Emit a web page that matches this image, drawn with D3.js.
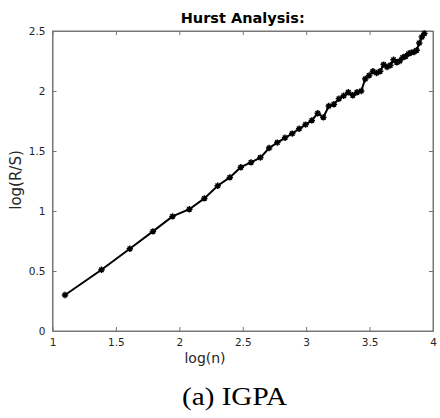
<!DOCTYPE html>
<html><head><meta charset="utf-8">
<script src="https://cdn.jsdelivr.net/npm/d3@7"></script>
<style>body{margin:0;background:#fff}svg{display:block}</style>
</head><body>
<svg id="c" width="440" height="418"></svg>
<script>
const nValues = [3,4,5,6,7,8,9,10,11,12,13,14,15,16,17,18,19,20,21,22,23,24,25,26,27,28,29,30,31,32,33,34,35,36,37,38,39,40,41,42,43,44,45,46,47,48,49,50,51];
const rsValues = [0.30,0.51,0.685,0.83,0.955,1.015,1.105,1.21,1.28,1.365,1.405,1.445,1.525,1.57,1.61,1.645,1.685,1.72,1.755,1.815,1.78,1.875,1.89,1.935,1.96,1.99,1.965,1.99,2.00,2.10,2.13,2.165,2.15,2.165,2.22,2.20,2.215,2.26,2.24,2.25,2.28,2.29,2.31,2.32,2.325,2.34,2.40,2.45,2.48];
const xTicks = [1,1.5,2,2.5,3,3.5,4];
const yTicks = [0,0.5,1,1.5,2,2.5];
const titleText = "Hurst Analysis:";
const xLabel = "log(n)";
const yLabel = "log(R/S)";
const caption = "(a) IGPA";

const svg = d3.select("#c");
const L = 52.5, R = 433, T = 31, B = 331;
const x = d3.scaleLinear().domain([1,4]).range([L,R]);
const y = d3.scaleLinear().domain([0,2.5]).range([B,T]);
const axisColor = "#262626";
const font = "DejaVu Sans, sans-serif";

const data = nValues.map((n,i)=>({x:Math.log(n), y:rsValues[i]}));

svg.append("rect").attr("x",L).attr("y",T).attr("width",R-L).attr("height",B-T)
  .attr("fill","#fff").attr("stroke","#777").attr("stroke-width",1);

const gx = svg.append("g").attr("transform",`translate(0,${B})`)
  .call(d3.axisBottom(x).tickValues(xTicks).tickFormat(d3.format("~g")).tickSizeInner(-4).tickSizeOuter(0).tickPadding(8));
const gy = svg.append("g").attr("transform",`translate(${L},0)`)
  .call(d3.axisLeft(y).tickValues(yTicks).tickFormat(d3.format("~g")).tickSizeInner(-4).tickSizeOuter(0).tickPadding(7));
const gxt = svg.append("g").attr("transform",`translate(0,${T})`)
  .call(d3.axisTop(x).tickValues(xTicks).tickFormat("").tickSizeInner(-4).tickSizeOuter(0));
const gyr = svg.append("g").attr("transform",`translate(${R},0)`)
  .call(d3.axisRight(y).tickValues(yTicks).tickFormat("").tickSizeInner(-4).tickSizeOuter(0));
[gx,gy,gxt,gyr].forEach(g=>{
  g.select(".domain").attr("stroke","#777");
  g.selectAll(".tick line").attr("stroke","#777");
  g.selectAll("text").attr("fill",axisColor).style("font-family",font).style("font-size","10.5px");
});

svg.append("path").datum(data)
  .attr("d", d3.line().x(d=>x(d.x)).y(d=>y(d.y)))
  .attr("fill","none").attr("stroke","#000").attr("stroke-width",2);

const s = 3.2;
const star = `M${-s},0L${s},0M0,${-s}L0,${s}M${-s*0.7},${-s*0.7}L${s*0.7},${s*0.7}M${-s*0.7},${s*0.7}L${s*0.7},${-s*0.7}`;
svg.append("g").selectAll("path").data(data).join("path")
  .attr("transform",d=>`translate(${x(d.x)},${y(d.y)})`)
  .attr("d",star).attr("stroke","#000").attr("stroke-width",1.5).attr("fill","none");

svg.append("text").attr("x",(L+R)/2).attr("y",23).attr("text-anchor","middle")
  .style("font-family",font).style("font-size","14.5px").style("font-weight","bold").attr("fill","#000").text(titleText);
svg.append("text").attr("x",205).attr("y",363).attr("text-anchor","middle")
  .style("font-family",font).style("font-size","14px").attr("fill",axisColor).text(xLabel);
svg.append("text").attr("transform",`translate(21,180) rotate(-90)`).attr("text-anchor","middle")
  .style("font-family",font).style("font-size","15px").attr("fill",axisColor).text(yLabel);
svg.append("text").attr("x",234.5).attr("y",405).attr("text-anchor","middle")
  .attr("textLength",105).attr("lengthAdjust","spacingAndGlyphs")
  .style("font-family","Liberation Serif, serif").style("font-size","25px").attr("fill","#000").text(caption);
</script>
</body></html>
